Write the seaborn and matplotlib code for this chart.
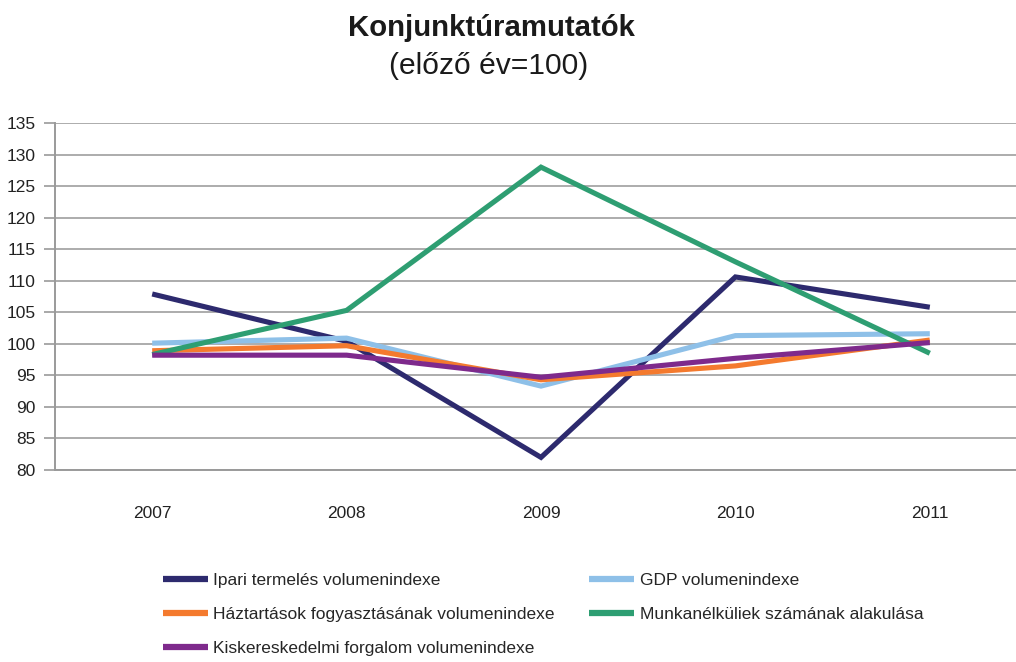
import numpy as np
import pandas as pd
import seaborn as sns
import matplotlib
matplotlib.use("Agg")
import matplotlib.pyplot as plt
from matplotlib.lines import Line2D

years = ["2007", "2008", "2009", "2010", "2011"]
ipari = [107.9, 100.4, 82.0, 110.6, 105.8]
gdp = [100.1, 100.9, 93.3, 101.3, 101.6]
haztartas = [98.9, 99.7, 94.3, 96.5, 100.6]
munkanelkuli = [98.3, 105.3, 128.0, 113.0, 98.5]
kisker = [98.2, 98.2, 94.7, 97.7, 100.2]

series_names = [
    "Ipari termelés volumenindexe",
    "GDP volumenindexe",
    "Háztartások fogyasztásának volumenindexe",
    "Munkanélküliek számának alakulása",
    "Kiskereskedelmi forgalom volumenindexe",
]
series_values = [ipari, gdp, haztartas, munkanelkuli, kisker]
colors = ["#2D2A6E", "#8EC0E8", "#F47A2E", "#2E9E72", "#7E2A8C"]

title = "Konjunktúramutatók"
subtitle = "(előző év=100)"
yticks = [80, 85, 90, 95, 100, 105, 110, 115, 120, 125, 130, 135]

rows = []
for name, vals in zip(series_names, series_values):
    for i, (y, v) in enumerate(zip(years, vals)):
        rows.append({"pos": i, "year": y, "value": v, "series": name})
df = pd.DataFrame(rows)

sns.set_theme(style="white")
plt.rcParams["font.family"] = ["Liberation Sans Narrow", "Liberation Sans", "DejaVu Sans"]

W, H = 1016, 662
fig = plt.figure(figsize=(W / 100, H / 100), dpi=100)
left, right = 55, 55 + 972
top, bottom = 123, 470
ax = fig.add_axes([left / W, 1 - bottom / H, (right - left) / W, (bottom - top) / H])

sns.lineplot(data=df, x="pos", y="value", hue="series", hue_order=series_names,
             palette=colors, linewidth=3.7, legend=False, ax=ax, zorder=3)
for l in ax.lines:
    l.set_solid_capstyle("butt")
    l.set_solid_joinstyle("miter")

ax.set_xlim(-0.5, 4.5)
ax.set_ylim(80, 135)
ax.set_yticks(yticks)
ax.set_yticklabels([str(t) for t in yticks], fontsize=12.5, color="#222222")
ax.set_xticks(np.arange(len(years)))
ax.set_xticklabels(years, fontsize=12.5, color="#222222")
ax.set_xticks(np.arange(-0.5, len(years) + 0.5, 1.0), minor=True)
ax.tick_params(axis="x", which="major", length=0, pad=26)
ax.tick_params(axis="x", which="minor", length=8, width=1.2, color="#9A9A9A", direction="out")
ax.tick_params(axis="y", which="major", length=8, width=1.2, color="#9A9A9A", direction="out", pad=6, left=True)
ax.grid(axis="y", color="#A6A6A6", linewidth=1.3, zorder=0)
ax.grid(axis="x", visible=False)
ax.set_xlabel("")
ax.set_ylabel("")
for s in ["top", "right"]:
    ax.spines[s].set_visible(False)
for s in ["left", "bottom"]:
    ax.spines[s].set_color("#9A9A9A")
    ax.spines[s].set_linewidth(1.4)

fig.text(491 / W, 1 - 28 / H, title, ha="center", va="center", fontsize=21.2,
         fontweight="bold", family=["Liberation Sans", "DejaVu Sans"], color="#1a1a1a")
fig.text(489 / W, 1 - 66 / H, subtitle, ha="center", va="center", fontsize=21.6,
         family=["Liberation Sans", "DejaVu Sans"], color="#1a1a1a")

order = [0, 2, 4, 1, 3]
handles = [Line2D([0], [0], color=colors[i], linewidth=4.5, solid_capstyle="butt") for i in order]
labels = [series_names[i] for i in order]
fig.legend(handles, labels, ncol=2, loc="upper left",
           bbox_to_anchor=(147 / W, 1 - 557 / H), frameon=False,
           fontsize=12.5, handlelength=2.6, handletextpad=0.3,
           columnspacing=2.0, labelspacing=1.1)

fig.savefig("out.png", dpi=100, facecolor="white")
